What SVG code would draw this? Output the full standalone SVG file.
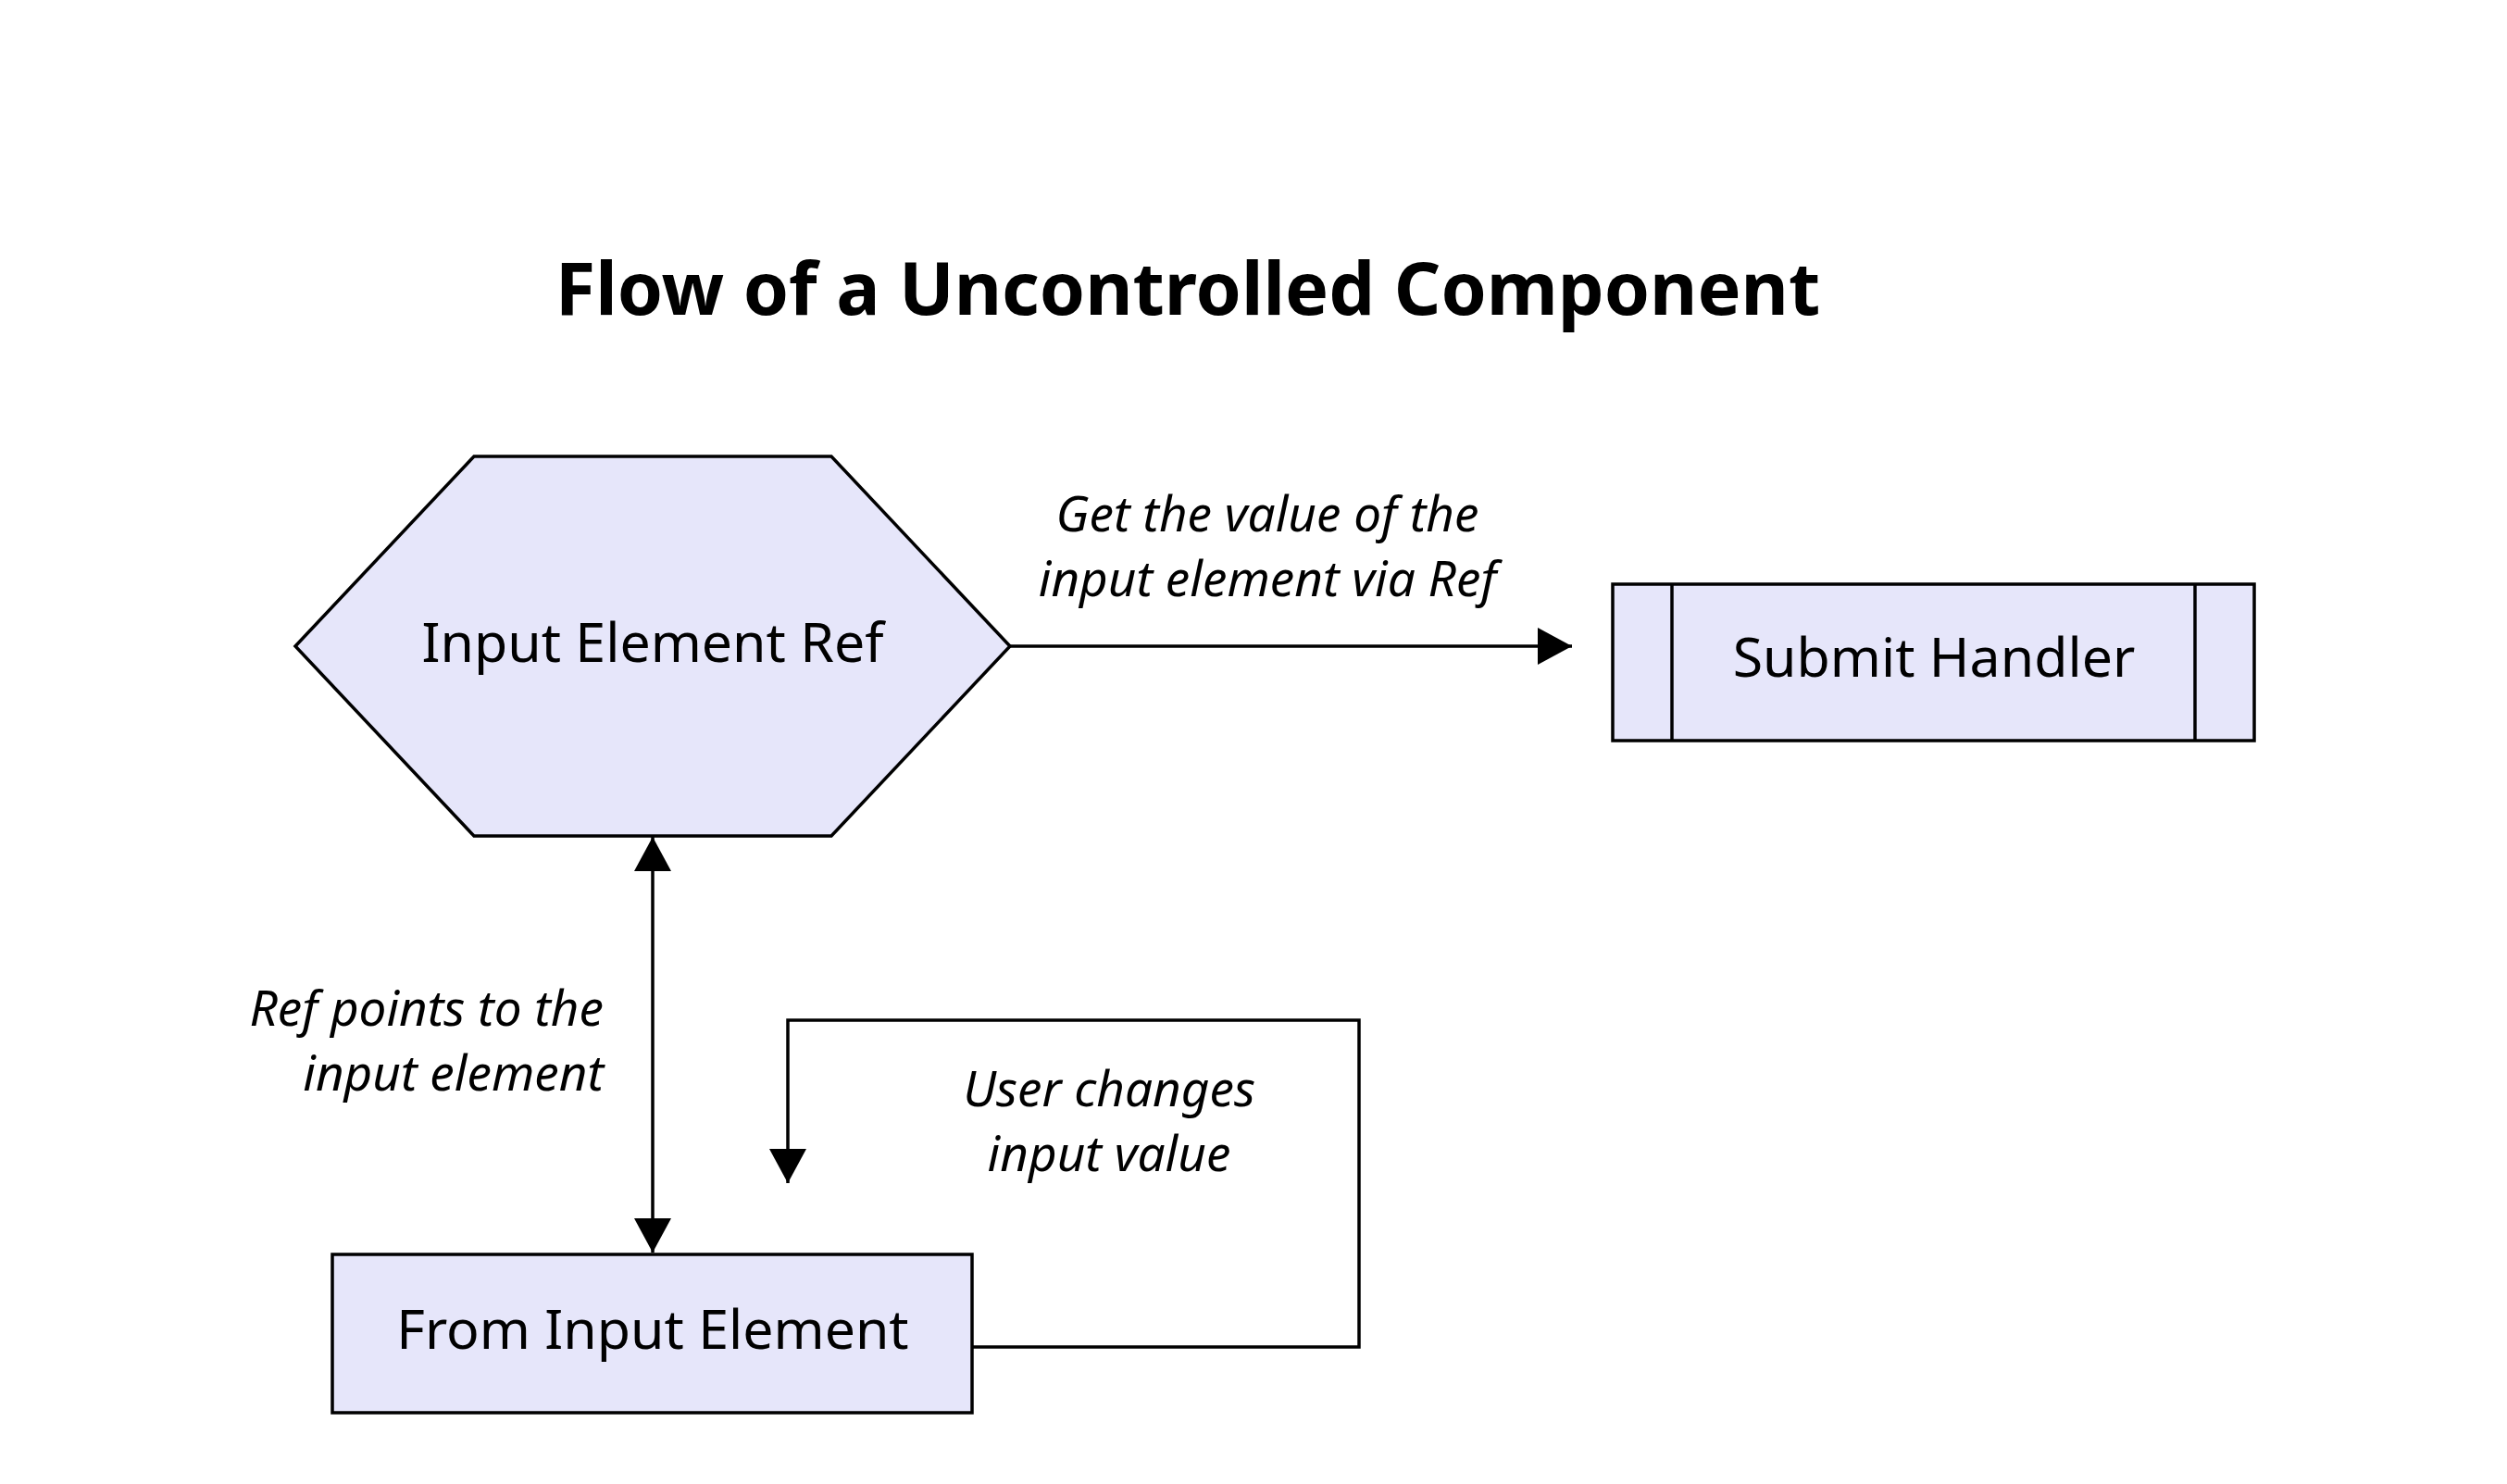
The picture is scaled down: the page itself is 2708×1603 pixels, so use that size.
<svg xmlns="http://www.w3.org/2000/svg" width="2708" height="1603" viewBox="0 0 2708 1603">
<style>
.node{fill:#e6e6fa;stroke:#000;stroke-width:3.5}
.ntxt{font-family:"Noto Sans","Open Sans",sans-serif;font-size:59px;fill:#000;text-anchor:middle}
.ltxt{font-family:"Noto Sans","Open Sans",sans-serif;font-size:53px;font-style:italic;fill:#000}
.edge{fill:none;stroke:#000;stroke-width:3.5}
.title{font-family:"Noto Sans","Open Sans",sans-serif;font-size:79px;font-weight:bold;fill:#000;text-anchor:middle}
</style>
<defs>
<marker id="arr" viewBox="0 0 37 40" refX="37" refY="20" markerWidth="37" markerHeight="40" markerUnits="userSpaceOnUse" orient="auto-start-reverse">
<path d="M0,0 L37,20 L0,40 z" fill="#000"/>
</marker>
</defs>
<rect width="2708" height="1603" fill="#fff"/>
<text class="title" x="1283" y="340">Flow of a Uncontrolled Component</text>
<g id="connectors">
<path class="edge" d="M1091,698 L1698,698" marker-end="url(#arr)"/>
<path class="edge" d="M705,904 L705,1353" marker-start="url(#arr)" marker-end="url(#arr)"/>
<path class="edge" d="M1051,1455 L1468,1455 L1468,1102 L851,1102 L851,1278" marker-end="url(#arr)"/>
<g id="edge-labels">
<text class="ltxt" x="1369" y="574" text-anchor="middle">Get the value of the</text>
<text class="ltxt" x="1369" y="644" text-anchor="middle">input element via Ref</text>
<text class="ltxt" x="652" y="1108" text-anchor="end">Ref points to the</text>
<text class="ltxt" x="652" y="1178" text-anchor="end">input element</text>
<text class="ltxt" x="1198" y="1195" text-anchor="middle">User changes</text>
<text class="ltxt" x="1198" y="1265" text-anchor="middle">input value</text>
</g>
</g>
<g id="node-ref">
<polygon class="node" points="319,698 512,493 898,493 1091,698 898,903 512,903"/>
<text class="ntxt" x="705" y="715">Input Element Ref</text>
</g>
<g id="node-submit">
<rect class="node" x="1742" y="631" width="693" height="169"/>
<line class="node" x1="1806" y1="631" x2="1806" y2="800"/>
<line class="node" x1="2371" y1="631" x2="2371" y2="800"/>
<text class="ntxt" x="2089" y="731">Submit Handler</text>
</g>
<g id="node-input">
<rect class="node" x="359" y="1355" width="691" height="171"/>
<text class="ntxt" x="705" y="1457">From Input Element</text>
</g>
</svg>
